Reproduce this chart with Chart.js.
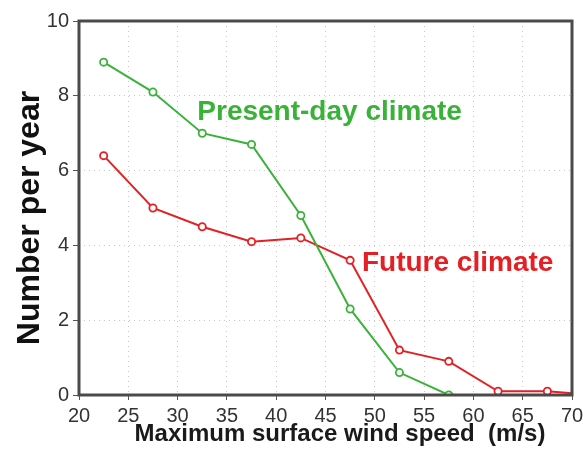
<!DOCTYPE html>
<html>
<head>
<meta charset="utf-8">
<script src="https://cdn.jsdelivr.net/npm/chart.js@4/dist/chart.umd.min.js"></script>
<style>
  html, body { margin: 0; padding: 0; background: #ffffff; }
  #wrap { width: 583px; height: 453px; position: relative; }
</style>
</head>
<body>
<div id="wrap"><canvas id="c" width="583" height="453"></canvas></div>
<script>
// Wind speed bin centres (m/s)
const windSpeeds = [22.5, 27.5, 32.5, 37.5, 42.5, 47.5, 52.5, 57.5, 62.5, 67.5, 72.5];
// Number per year, present-day climate
const presentDay = [8.9, 8.1, 7.0, 6.7, 4.8, 2.3, 0.6, 0.0];
// Number per year, future climate
const futureClimate = [6.4, 5.0, 4.5, 4.1, 4.2, 3.6, 1.2, 0.9, 0.1, 0.1, 0.0];
// Axis ticks
const xTicks = [20, 25, 30, 35, 40, 45, 50, 55, 60, 65, 70];
const yTicks = [0, 2, 4, 6, 8, 10];
// Axis titles
const xTitle = "Maximum surface wind speed  (m/s)";
const yTitle = "Number per year";
// Inline labels: [text, x (m/s), y (number)]
const presentLabel = ["Present-day climate", 32.0, 7.57];
const futureLabel = ["Future climate", 48.7, 3.53];

const GREEN = "rgb(58,178,58)";
const RED = "rgb(228,32,36)";
const FONT = "'Liberation Sans', Arial, sans-serif";

function toPoints(xs, ys) { return ys.map((v, i) => ({ x: xs[i], y: v })); }

const framePlugin = {
  id: "frame",
  afterDatasetsDraw(chart) {
    const { ctx, chartArea: a } = chart;
    ctx.save();
    ctx.strokeStyle = "#4a4a4a";
    ctx.lineWidth = 3;
    ctx.strokeRect(a.left, a.top, a.right - a.left, a.bottom - a.top);
    ctx.restore();
  }
};

const labelPlugin = {
  id: "inlineLabels",
  afterDraw(chart) {
    const { ctx, scales, chartArea: a } = chart;
    ctx.save();
    ctx.font = "bold 28px " + FONT;
    ctx.textBaseline = "middle";
    ctx.textAlign = "left";
    [[presentLabel, GREEN], [futureLabel, RED]].forEach(([lab, col]) => {
      ctx.fillStyle = col;
      ctx.fillText(lab[0], scales.x.getPixelForValue(lab[1]), scales.y.getPixelForValue(lab[2]));
    });
    // axis titles
    ctx.fillStyle = "#1a1a1a";
    ctx.textAlign = "center";
    ctx.font = "bold 24px " + FONT;
    ctx.fillText(xTitle, 340, a.bottom + 39);
    ctx.save();
    ctx.translate(30, 218);
    ctx.rotate(-Math.PI / 2);
    ctx.font = "bold 32px " + FONT;
    ctx.fillStyle = "#111";
    ctx.fillText(yTitle, 0, 0);
    ctx.restore();
    ctx.restore();
  }
};

const dsCommon = {
  borderWidth: 2,
  pointRadius: 3.6,
  pointBorderWidth: 1.8,
  pointBackgroundColor: "#ffffff",
  tension: 0,
  fill: false
};

new Chart(document.getElementById("c"), {
  type: "line",
  data: {
    datasets: [
      Object.assign({ label: "Present-day climate", data: toPoints(windSpeeds, presentDay),
        borderColor: GREEN, pointBorderColor: GREEN }, dsCommon),
      Object.assign({ label: "Future climate", data: toPoints(windSpeeds, futureClimate),
        borderColor: RED, pointBorderColor: RED }, dsCommon)
    ]
  },
  options: {
    responsive: false,
    animation: false,
    devicePixelRatio: 1,
    layout: { padding: { top: 21, right: 11, left: 0, bottom: 0 } },
    plugins: { legend: { display: false }, tooltip: { enabled: false } },
    scales: {
      x: {
        type: "linear",
        min: 20, max: 70,
        afterBuildTicks(s) { s.ticks = xTicks.map(v => ({ value: v })); },
        afterFit(s) { s.height = 58; s.paddingLeft = 0; s.paddingRight = 0; },
        grid: { color: "#c8c8c8", lineWidth: 1, tickLength: 5, tickColor: "#555", drawTicks: true, tickBorderDash: [] },
        border: { display: false, dash: [1, 4] },
        ticks: { color: "#333", padding: 4, font: { family: FONT, size: 20 }, maxRotation: 0, autoSkip: false },
        title: { display: false }
      },
      y: {
        min: 0, max: 10,
        afterBuildTicks(s) { s.ticks = yTicks.map(v => ({ value: v })); },
        afterFit(s) { s.width = 79; s.paddingTop = 0; s.paddingBottom = 0; },
        grid: { color: "#c8c8c8", lineWidth: 1, tickLength: 6, tickColor: "#555", drawTicks: true, tickBorderDash: [] },
        border: { display: false, dash: [1, 4] },
        ticks: { color: "#333", padding: 4, font: { family: FONT, size: 20 } },
        title: { display: false }
      }
    }
  },
  plugins: [framePlugin, labelPlugin]
});
</script>
</body>
</html>
